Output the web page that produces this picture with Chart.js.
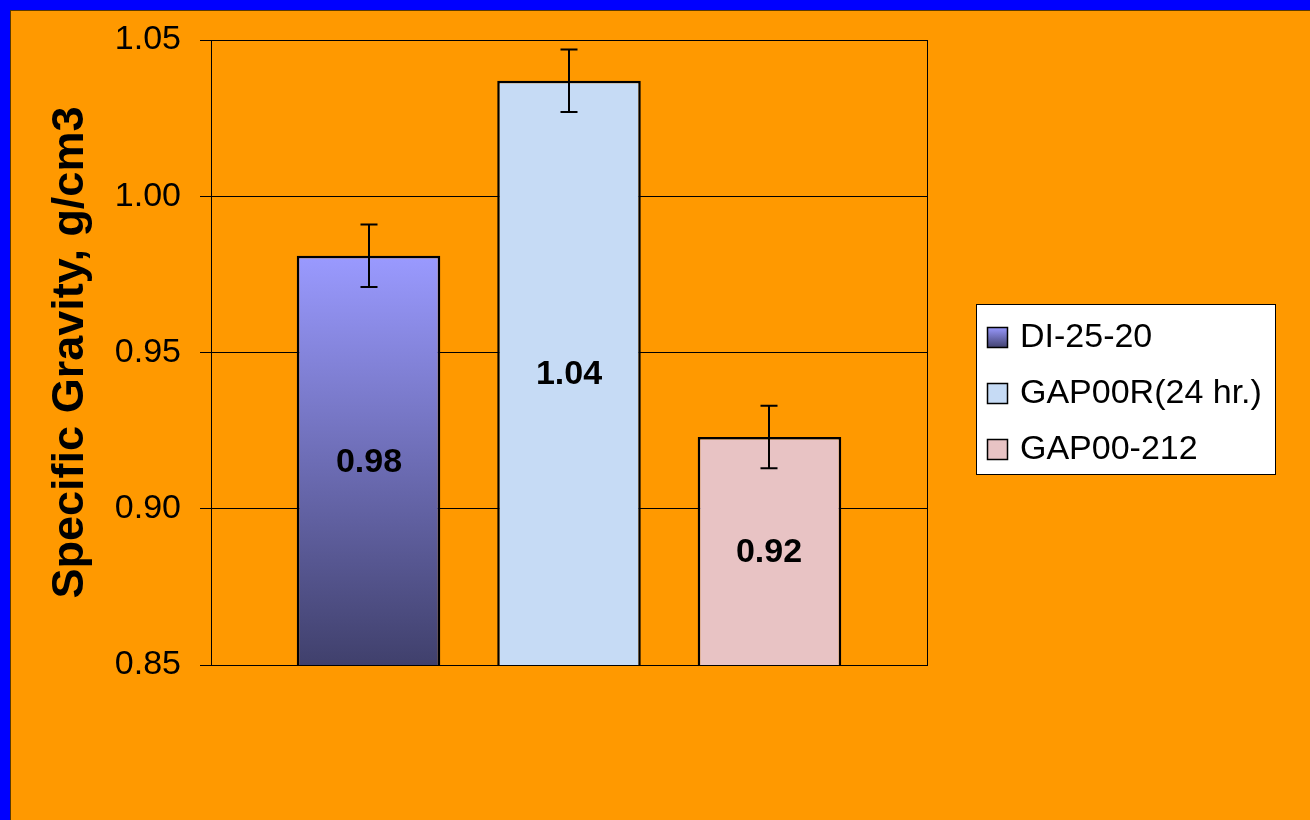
<!DOCTYPE html>
<html>
<head>
<meta charset="utf-8">
<script src="https://cdn.jsdelivr.net/npm/chart.js@4.4.1/dist/chart.umd.min.js"></script>
<style>
  html, body { margin: 0; padding: 0; background: #FF9900; }
  #wrap { width: 1310px; height: 820px; position: relative; }
</style>
</head>
<body>
<div id="wrap"><canvas id="c" width="1310" height="820"></canvas></div>
<script>
const categories = [''];
const seriesNames = ['DI-25-20', 'GAP00R(24 hr.)', 'GAP00-212'];
const seriesValues = [0.981, 1.037, 0.923];
const seriesErrors = [0.01, 0.01, 0.01];
const yTicks = { min: 0.85, max: 1.05, step: 0.05 };
const yTitle = 'Specific Gravity, g/cm3';

const FONT = '"Liberation Sans", Arial, sans-serif';

function fillFor(i, ctx, top, bottom) {
  if (i === 0) {
    const g = ctx.createLinearGradient(0, top, 0, bottom);
    g.addColorStop(0, '#9A9AFF');
    g.addColorStop(1, '#40406C');
    return g;
  }
  if (i === 1) return '#C6DBF5';
  return '#E8C3C4';
}

const bgPlugin = {
  id: 'bg',
  beforeDraw(chart) {
    const ctx = chart.ctx;
    ctx.save();
    ctx.fillStyle = '#FF9900';
    ctx.fillRect(0, 0, chart.width, chart.height);
    ctx.fillStyle = '#0000FF';
    ctx.fillRect(0, 0, chart.width, 10);
    ctx.fillRect(0, 0, 10, chart.height);
    ctx.strokeStyle = '#5A3A00';
    ctx.lineWidth = 1;
    ctx.beginPath();
    ctx.moveTo(10, 10.5); ctx.lineTo(chart.width, 10.5);
    ctx.moveTo(10.5, 10); ctx.lineTo(10.5, chart.height);
    ctx.stroke();
    ctx.restore();
  }
};

const overlayPlugin = {
  id: 'overlay',
  afterDatasetsDraw(chart) {
    const ctx = chart.ctx;
    const ys = chart.scales.y;
    const ca = chart.chartArea;
    ctx.save();
    // plot border
    ctx.strokeStyle = '#000';
    ctx.lineWidth = 1;
    ctx.strokeRect(Math.round(ca.left) + 0.5, Math.round(ca.top) + 0.5,
      Math.round(ca.right - ca.left), Math.round(ca.bottom - ca.top));
    chart.data.datasets.forEach((ds, i) => {
      const meta = chart.getDatasetMeta(i);
      meta.data.forEach((el, j) => {
        const v = ds.data[j];
        const e = seriesErrors[i];
        const x = Math.round(el.x);
        const yHi = ys.getPixelForValue(v + e);
        const yLo = ys.getPixelForValue(v - e);
        ctx.strokeStyle = '#000';
        ctx.lineWidth = 2;
        ctx.beginPath();
        ctx.moveTo(x, yHi); ctx.lineTo(x, yLo);
        ctx.moveTo(x - 8.5, yHi); ctx.lineTo(x + 8.5, yHi);
        ctx.moveTo(x - 8.5, yLo); ctx.lineTo(x + 8.5, yLo);
        ctx.stroke();
        // value label
        const yTop = ys.getPixelForValue(v);
        const yMid = (yTop + ca.bottom) / 2;
        ctx.fillStyle = '#000';
        ctx.font = 'bold 34px ' + FONT;
        ctx.textAlign = 'center';
        ctx.textBaseline = 'middle';
        ctx.fillText(v.toFixed(2), x, yMid + 2);
      });
    });
    ctx.restore();
  },
  afterDraw(chart) {
    const ctx = chart.ctx;
    ctx.save();
    const lx = 976, ly = 304, lw = 299, lh = 170;
    ctx.fillStyle = '#FFFFFF';
    ctx.fillRect(lx, ly, lw, lh);
    ctx.strokeStyle = '#000';
    ctx.lineWidth = 1;
    ctx.strokeRect(lx + 0.5, ly + 0.5, lw, lh);
    const rowY = [337, 393, 449];
    chart.data.datasets.forEach((ds, i) => {
      const cy = rowY[i];
      const mx = 987, my = cy - 10, mw = 21, mh = 21;
      ctx.fillStyle = fillFor(i, ctx, my, my + mh);
      ctx.fillRect(mx, my, mw, mh);
      ctx.strokeStyle = '#000';
      ctx.lineWidth = 1.5;
      ctx.strokeRect(mx + 0.5, my + 0.5, mw - 1, mh - 1);
      ctx.fillStyle = '#000';
      ctx.font = '34px ' + FONT;
      ctx.textAlign = 'left';
      ctx.textBaseline = 'middle';
      ctx.fillText(ds.label, 1020, cy + 1);
    });
    ctx.restore();
  }
};

const datasets = seriesNames.map((name, i) => ({
  label: name,
  data: [seriesValues[i]],
  backgroundColor: (c) => {
    const chart = c.chart;
    const ca = chart.chartArea;
    if (!ca) return '#999';
    const top = chart.scales.y.getPixelForValue(seriesValues[i]);
    return fillFor(i, chart.ctx, top, ca.bottom);
  },
  borderColor: '#000',
  borderWidth: 2.5,
  borderSkipped: false,
  categoryPercentage: 0.84,
  barPercentage: 0.716
}));

new Chart(document.getElementById('c'), {
  type: 'bar',
  data: { labels: categories, datasets },
  options: {
    responsive: false,
    animation: false,
    devicePixelRatio: 1,
    layout: { padding: { left: 0, top: 40, right: 383, bottom: 155 } },
    plugins: { legend: { display: false }, tooltip: { enabled: false } },
    scales: {
      x: { display: false },
      y: {
        min: yTicks.min, max: yTicks.max,
        afterFit(scale) { scale.width = 211; },
        ticks: {
          stepSize: yTicks.step,
          padding: 19,
          color: '#000',
          font: { family: FONT, size: 34 },
          callback: (v) => Number(v).toFixed(2)
        },
        grid: { color: '#000', lineWidth: 1, tickLength: 11, drawTicks: true },
        border: { display: true, color: '#000', width: 1 },
        title: {
          display: true,
          text: yTitle,
          color: '#000',
          font: { family: FONT, size: 45, weight: 'bold' },
          padding: { top: 44, bottom: 0 }
        }
      }
    }
  },
  plugins: [bgPlugin, overlayPlugin]
});
</script>
</body>
</html>
